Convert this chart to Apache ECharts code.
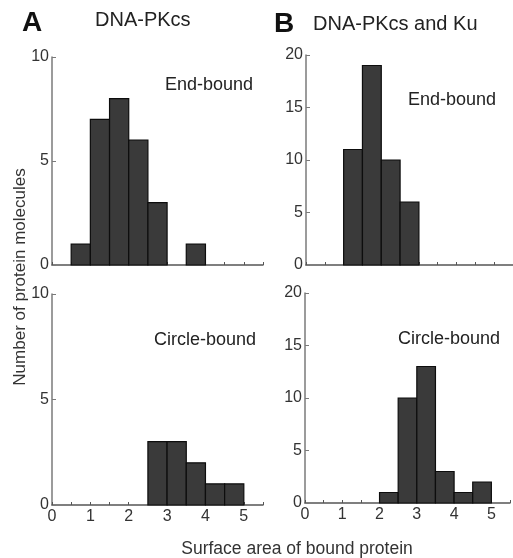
<!DOCTYPE html>
<html>
<head>
<meta charset="utf-8">
<script src="https://cdn.jsdelivr.net/npm/echarts@6/dist/echarts.min.js"></script>
<style>
  html, body { margin: 0; padding: 0; background: #fff; }
  #chart { width: 513px; height: 558px; }
</style>
</head>
<body>
<div id="chart"></div>
<script>
// histogram bins: [start, end] of surface area, 0.5 wide
const binStarts = [0.5, 1.0, 1.5, 2.0, 2.5, 3.0, 3.5, 4.0, 4.5]
const pkEnd = [1, 7, 8, 6, 3, 0, 1, 0, 0]
const pkCircle = [0, 0, 0, 0, 3, 3, 2, 1, 1]
const kuEnd = [0, 11, 19, 10, 6, 0, 0, 0, 0]
const kuCircle = [0, 0, 0, 1, 10, 13, 3, 1, 2]
const binWidth = 0.5

const font = 'Liberation Sans, Arial, Helvetica, sans-serif'
const axisGray = '#7a7a7a'

function toBins(counts) {
  return binStarts.map((s, i) => [s, s + binWidth, counts[i]]).filter(d => d[2] > 0)
}

function renderBar(params, api) {
  const p0 = api.coord([api.value(0), api.value(2)])
  const p1 = api.coord([api.value(1), 0])
  return {
    type: 'rect',
    shape: { x: p0[0], y: p0[1], width: p1[0] - p0[0], height: p1[1] - p0[1] },
    style: { fill: '#3a3a3a', stroke: '#0d0d0d', lineWidth: 1.2 }
  }
}

const grids = [
  { left: 52, top: 57, width: 211, height: 208 },
  { left: 52, top: 294, width: 211, height: 211 },
  { left: 306, top: 55, width: 209, height: 210 },
  { left: 305, top: 293, width: 209, height: 210 }
]

function xAxis(gi, showLabels) {
  return {
    type: 'value', gridIndex: gi, min: 0, max: 5.5, interval: 0.5,
    axisLine: { lineStyle: { color: '#555', width: 1.5 } },
    axisTick: { inside: true, length: 3, lineStyle: { color: '#555' } },
    splitLine: { show: false },
    axisLabel: {
      show: showLabels, color: '#333', fontFamily: font, fontSize: 16, margin: 4,
      formatter: v => (Number.isInteger(v) && v <= 5 ? String(v) : '')
    }
  }
}

function yAxis(gi, max) {
  return {
    type: 'value', gridIndex: gi, min: 0, max: max, interval: 5,
    axisLine: { show: true, lineStyle: { color: axisGray, width: 1.5 } },
    axisTick: { show: true, inside: true, length: 4, lineStyle: { color: axisGray } },
    splitLine: { show: false },
    axisLabel: { color: '#333', fontFamily: font, fontSize: 16, margin: 3 }
  }
}

const chart = echarts.init(document.getElementById('chart'))
chart.setOption({
  animation: false,
  grid: grids,
  xAxis: [xAxis(0, false), xAxis(1, true), xAxis(2, false), xAxis(3, true)],
  yAxis: [yAxis(0, 10), yAxis(1, 10), yAxis(2, 20), yAxis(3, 20)],
  series: [pkEnd, pkCircle, kuEnd, kuCircle].map((c, i) => ({
    type: 'custom', xAxisIndex: i, yAxisIndex: i,
    renderItem: renderBar, data: toBins(c)
  })),
  graphic: [
    { type: 'text', x: 22, y: 23, style: { text: 'A', font: 'bold 28px ' + font, fill: '#111', verticalAlign: 'middle' } },
    { type: 'text', x: 95, y: 20, style: { text: 'DNA-PKcs', font: '20px ' + font, fill: '#222', verticalAlign: 'middle' } },
    { type: 'text', x: 274, y: 24, style: { text: 'B', font: 'bold 28px ' + font, fill: '#111', verticalAlign: 'middle' } },
    { type: 'text', x: 313, y: 24, style: { text: 'DNA-PKcs and Ku', font: '20px ' + font, fill: '#222', verticalAlign: 'middle' } },
    { type: 'text', x: 165, y: 85, style: { text: 'End-bound', font: '18px ' + font, fill: '#222', verticalAlign: 'middle' } },
    { type: 'text', x: 408, y: 100, style: { text: 'End-bound', font: '18px ' + font, fill: '#222', verticalAlign: 'middle' } },
    { type: 'text', x: 154, y: 340, style: { text: 'Circle-bound', font: '18px ' + font, fill: '#222', verticalAlign: 'middle' } },
    { type: 'text', x: 398, y: 339, style: { text: 'Circle-bound', font: '18px ' + font, fill: '#222', verticalAlign: 'middle' } },
    {
      type: 'text', x: 20, y: 277, rotation: Math.PI / 2,
      style: { text: 'Number of protein molecules', font: '17px ' + font, fill: '#333', align: 'center', verticalAlign: 'middle' }
    },
    {
      type: 'text', x: 297, y: 549,
      style: { text: 'Surface area of bound protein', font: '17.5px ' + font, fill: '#333', align: 'center', verticalAlign: 'middle' }
    }
  ]
})
</script>
</body>
</html>
